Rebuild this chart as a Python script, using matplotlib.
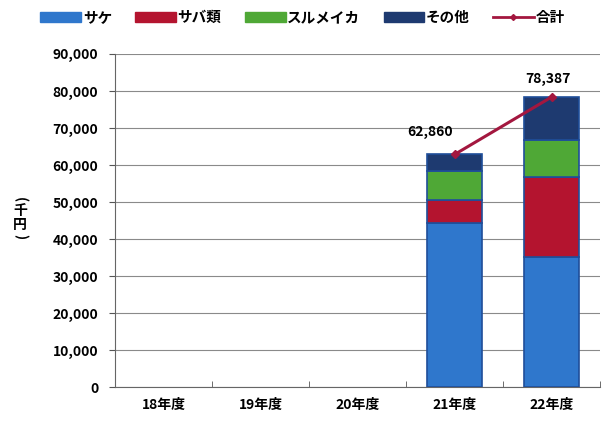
import matplotlib
matplotlib.use("Agg")
import matplotlib.pyplot as plt
import numpy as np
from matplotlib.patches import Patch
from matplotlib.lines import Line2D

plt.rcParams['font.family'] = ['Noto Sans CJK JP', 'DejaVu Sans']
plt.rcParams['font.weight'] = 'bold'

years = ['18年度', '19年度', '20年度', '21年度', '22年度']
sake = [0, 0, 0, 44300, 35100]
saba = [0, 0, 0, 6300, 21700]
surume = [0, 0, 0, 7800, 10000]
other = [0, 0, 0, 4460, 11587]
total = [None, None, None, 62860, 78387]

series_names = ['サケ', 'サバ類', 'スルメイカ', 'その他']
colors = ['#2F77CC', '#B4142F', '#4FA836', '#1E3A70']

fig = plt.figure(figsize=(6.05, 4.25), dpi=100)
ax = fig.add_axes([0.19, 0.089, 0.802, 0.784])

x = np.arange(len(years))
bottom = np.zeros(len(years))
for vals, col in zip([sake, saba, surume, other], colors):
    vals = np.array(vals, dtype=float)
    has = vals > 0
    ax.bar(x[has], vals[has], width=0.57, bottom=bottom[has], color=col,
           edgecolor='#1F4E9A', linewidth=1.2, zorder=3)
    bottom += vals

# 合計の折れ線 (データがある年度のみ)
tx = [i for i, t in enumerate(total) if t is not None]
ty = [t for t in total if t is not None]
ax.plot(tx, ty, color='#A3173F', lw=2.2, marker='D', ms=4, zorder=4)
ax.annotate(f'{ty[0]:,}', (tx[0], ty[0]), xytext=(-18, 13),
            textcoords='offset points', ha='center', fontsize=10, zorder=5)
ax.annotate(f'{ty[1]:,}', (tx[1], ty[1]), xytext=(-3, 10),
            textcoords='offset points', ha='center', fontsize=10, zorder=5)

ax.set_xlim(-0.5, 4.5)
ax.set_ylim(0, 90000)
ax.set_yticks(np.arange(0, 90001, 10000))
ax.set_yticklabels([f'{v:,}' for v in range(0, 90001, 10000)], fontsize=10)
ax.set_xticks(x)
ax.set_xticklabels(years, fontsize=10)
ax.set_xticks(np.arange(-0.5, 4.6, 1), minor=True)
ax.tick_params(axis='x', which='major', length=0, pad=8)
ax.tick_params(axis='x', which='minor', length=4, direction='in', color='#555555')
ax.tick_params(axis='y', length=4, color='#555555', pad=8)

ax.grid(axis='y', color='#8a8a8a', lw=0.8, zorder=0)
for s in ['top', 'right']:
    ax.spines[s].set_visible(False)
ax.spines['left'].set_color('#666666')
ax.spines['bottom'].set_color('#666666')

# 縦書きの単位ラベル
unit_x = 20 / 605
for ch, yy, rot in [('(', 0.530, -90), ('千', 0.503, 0), ('円', 0.470, 0), (')', 0.443, -90)]:
    fig.text(unit_x, yy, ch, ha='center', va='center', fontsize=10, rotation=rot)

handles = [Patch(facecolor=c, edgecolor=c) for c in colors]
handles.append(Line2D([0], [0], color='#A3173F', lw=2, marker='D', ms=3))
fig.legend(handles, series_names + ['合計'], loc='upper center',
           bbox_to_anchor=(0.5, 1.01), ncol=5, frameon=False, fontsize=10.5,
           handlelength=2.8, handleheight=0.7, handletextpad=0.1,
           columnspacing=1.6)

fig.savefig('out.png', dpi=100)
